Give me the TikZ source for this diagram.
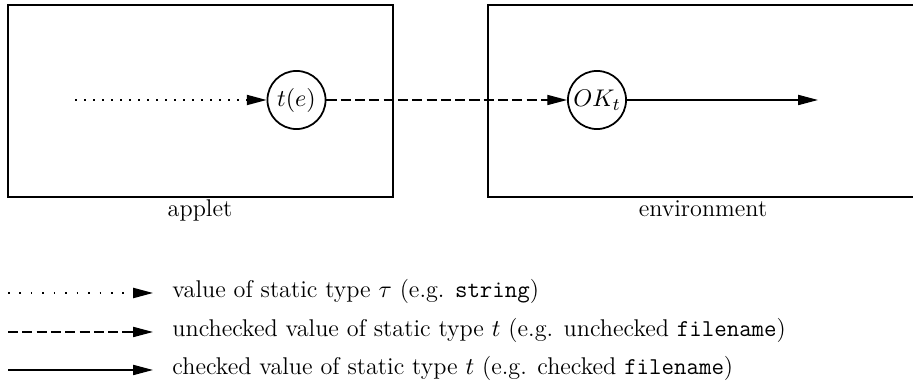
\documentclass[tikz,border=0pt]{standalone}
\usetikzlibrary{arrows.meta}
\begin{document}
\begin{tikzpicture}[x=0.4545pt,y=-0.4545pt,
  every node/.style={font=\fontsize{11}{13}\selectfont},
  box/.style={draw, line width=0.8pt},
  state/.style={draw, circle, line width=0.8pt, inner sep=0pt, minimum size=26.4pt},
  tip/.style={-{Triangle[length=9pt,width=4.6pt]}},
  dotline/.style={tip, line width=0.7pt, dash pattern=on 0.7pt off 3.4pt},
  legdotline/.style={tip, line width=0.7pt, dash pattern=on 0.7pt off 4.5pt},
  dashline/.style={tip, line width=0.6pt, dash pattern=on 4.6pt off 1.9pt},
  solidline/.style={tip, line width=0.6pt},
  lbl/.style={anchor=base, inner sep=0pt},
  legtext/.style={anchor=base west, inner sep=0pt}]
\useasboundingbox (0,0) rectangle (913,387);
\node[box, minimum width=175pt, minimum height=87.3pt, inner sep=0pt] (applet) at (200.5,101) {};
\draw[box] (488,5) rectangle (918,197);
\node[lbl] (appletlbl) at (200,217) {applet};
\node[lbl] (envlbl) at (703,217) {environment};
\node[state] (te) at (296.5,100) {$t(e)$};
\node[state] (ok) at (597,100) {$OK_t$};
\coordinate (start) at (75,100);
\coordinate (end) at (818,100);
\draw[dotline] (start) -- (te);
\draw[dashline] (te) -- (ok);
\draw[solidline] (ok) -- (end);
% legend
\coordinate (l1a) at (8,293); \coordinate (l1b) at (153,293);
\coordinate (l2a) at (8,332); \coordinate (l2b) at (153,332);
\coordinate (l3a) at (8,370); \coordinate (l3b) at (153,370);
\draw[legdotline] (l1a) -- (l1b);
\draw[dashline] (l2a) -- (l2b);
\draw[solidline] (l3a) -- (l3b);
\node[legtext] (t1) at (172,298) {value of static type $\tau$ (e.g. \texttt{string})};
\node[legtext] (t2) at (172,337) {unchecked value of static type $t$ (e.g. unchecked \texttt{filename})};
\node[legtext] (t3) at (172,375) {checked value of static type $t$ (e.g. checked \texttt{filename})};
\end{tikzpicture}
\end{document}
